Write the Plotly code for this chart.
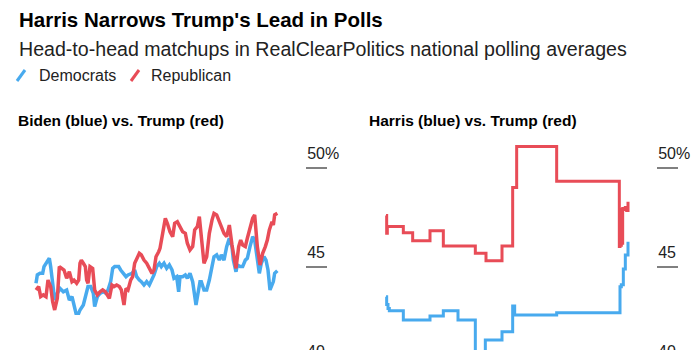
import plotly.graph_objects as go

# ---------------- data ----------------
# Left panel: Biden vs. Trump (day index since start of window)
biden_days = [0, 2, 6, 10, 12, 16, 20, 22, 25, 28, 32, 36, 41, 46, 50, 54, 57, 60, 64, 66,
              71, 75, 78, 82, 86, 88, 92, 96, 101, 105, 108, 112, 115, 118, 124, 127, 131, 135, 138, 144,
              148, 151, 155, 158, 162, 166, 170, 174, 177, 181, 185, 188, 192, 196, 200, 204, 207, 211, 214, 216,
              220, 224, 227, 231, 235, 240, 244, 246, 248, 252, 256, 260, 264, 267, 271, 275, 278, 282, 286, 290,
              294, 296, 300, 302, 306, 310, 314, 317, 321, 325, 328, 332, 335, 338, 342, 345, 348, 351, 354, 356,
              358, 362]
biden_vals = [44.18, 44.60, 44.68, 44.68, 45.02, 45.27, 45.44, 45.02, 44.01, 43.33, 43.67, 43.92, 43.75, 43.84, 43.33, 43.50, 43.08, 42.66, 42.66, 42.83,
              43.08, 43.67, 44.01, 44.01, 43.67, 43.00, 43.50, 43.67, 43.75, 43.67, 43.84, 44.26, 44.93, 45.02, 45.02, 44.85, 44.68, 44.51, 44.60, 44.68,
              44.85, 44.51, 44.34, 44.26, 44.09, 44.26, 44.09, 44.34, 44.60, 45.02, 45.19, 45.02, 45.19, 44.93, 45.10, 44.85, 44.43, 44.51, 43.75, 44.51,
              44.51, 44.60, 44.43, 44.68, 44.26, 43.08, 44.09, 44.26, 44.26, 43.84, 43.84, 44.34, 45.02, 45.52, 45.61, 45.35, 45.61, 45.35, 46.03, 46.45,
              46.03, 45.35, 44.76, 45.10, 45.02, 45.02, 45.35, 45.44, 46.03, 46.53, 46.36, 45.19, 44.68, 45.19, 45.52, 45.35, 44.85, 43.84, 44.09, 44.26,
              44.68, 44.81]

trump_b_days = [0, 4, 7, 11, 15, 18, 22, 25, 28, 32, 35, 38, 42, 46, 50, 54, 57, 61, 64, 66,
                68, 71, 74, 76, 78, 81, 85, 88, 92, 96, 100, 104, 107, 110, 114, 117, 121, 125, 128, 132,
                135, 138, 142, 145, 148, 152, 155, 158, 162, 166, 170, 174, 177, 180, 184, 186, 190, 194, 197, 201,
                205, 208, 212, 216, 220, 224, 227, 231, 235, 238, 242, 245, 248, 252, 256, 260, 264, 267, 271, 275,
                278, 282, 286, 290, 294, 297, 300, 304, 307, 310, 314, 317, 321, 325, 328, 332, 336, 340, 344, 347,
                350, 354, 356, 358, 362]
trump_b_vals = [43.84, 44.01, 43.50, 43.59, 43.50, 44.34, 44.01, 43.25, 42.83, 43.42, 45.02, 44.93, 44.85, 44.43, 44.76, 44.26, 44.34, 44.18, 44.34, 45.19,
                45.35, 45.19, 45.02, 44.34, 44.18, 45.02, 44.93, 43.84, 43.59, 43.75, 43.84, 43.75, 43.59, 43.42, 44.09, 44.01, 44.09, 44.01, 43.84, 43.08,
                43.92, 43.84, 44.34, 44.51, 45.19, 45.52, 45.69, 45.61, 45.35, 45.19, 44.93, 44.68, 44.85, 45.52, 45.77, 45.94, 46.70, 47.46, 47.21, 46.78,
                46.53, 47.21, 47.29, 47.04, 46.78, 46.70, 46.20, 45.86, 46.03, 46.87, 47.04, 47.54, 46.36, 45.19, 45.52, 46.70, 47.37, 47.71, 47.63, 47.29,
                47.12, 46.70, 46.53, 47.12, 46.11, 45.52, 44.93, 46.03, 46.36, 46.11, 46.03, 46.45, 46.95, 47.46, 47.63, 46.03, 45.10, 45.69, 46.03, 46.36,
                46.87, 47.29, 47.12, 47.63, 47.71]

# Right panel: Harris vs. Trump (step averages)
harris_days = [0, 1, 3, 5, 26, 66, 86, 108, 134, 149, 174, 190, 193, 256, 351, 353, 356, 359, 363]
harris_vals = [43.50, 43.10, 42.90, 42.79, 42.32, 42.53, 42.79, 42.32, 39.80, 41.31, 41.73, 43.03, 42.58, 42.69,
               44.00, 44.10, 44.90, 45.60, 46.28]

trump_h_days = [0, 1, 2, 26, 40, 66, 86, 134, 150, 174, 190, 196, 256, 350, 351, 352, 353, 354, 355,
                356, 359, 361, 363]
trump_h_vals = [47.60, 46.70, 47.04, 46.73, 46.33, 46.83, 46.06, 45.69, 45.32, 46.06, 49.02, 51.08, 49.33, 46.03,
                47.80, 46.10, 47.90, 46.20, 47.95, 47.90, 48.00, 47.85, 48.30]

tick_vals = [45, 50]
tick_text = ["45", "50%"]
hidden_tick_label = "40"

title_text = "Harris Narrows Trump's Lead in Polls"
subtitle_text = "Head-to-head matchups in RealClearPolitics national polling averages"
legend_names = ["Democrats", "Republican"]
panel_titles = ["Biden (blue) vs. Trump (red)", "Harris (blue) vs. Trump (red)"]

# ---------------- styling ----------------
BLUE = "#48aaee"
RED = "#e84c57"
FONT = "Liberation Sans, Arial, Helvetica, sans-serif"
W, H = 700, 350
TOP = 135  # plot-area top (px)


def py(px):
    """pixel row -> paper y"""
    return (H - px) / (H - TOP)


fig = go.Figure()
fig.add_trace(go.Scatter(x=biden_days, y=biden_vals, mode="lines",
                         line=dict(color=BLUE, width=3.5), xaxis="x", yaxis="y",
                         name=legend_names[0], showlegend=False))
fig.add_trace(go.Scatter(x=trump_b_days, y=trump_b_vals, mode="lines",
                         line=dict(color=RED, width=3.5), xaxis="x", yaxis="y",
                         name=legend_names[1], showlegend=False))
fig.add_trace(go.Scatter(x=harris_days, y=harris_vals, mode="lines",
                         line=dict(color=BLUE, width=3, shape="hv"), xaxis="x2", yaxis="y2",
                         name=legend_names[0], showlegend=False))
fig.add_trace(go.Scatter(x=trump_h_days, y=trump_h_vals, mode="lines",
                         line=dict(color=RED, width=3, shape="hv"), xaxis="x2", yaxis="y2",
                         name=legend_names[1], showlegend=False))

yaxis_common = dict(
    domain=[0, 1], range=[40.808, 51.667], side="right",
    tickmode="array", tickvals=tick_vals, ticktext=tick_text,
    ticks="outside", ticklen=21, tickwidth=2, tickcolor="#808080",
    showgrid=False, zeroline=False, showline=False,
    ticklabelstandoff=-23, ticklabelshift=-15,
    tickfont=dict(size=16, color="#222", family=FONT),
    fixedrange=True,
)

fig.update_layout(
    width=W, height=H,
    margin=dict(l=0, r=0, t=TOP, b=0, pad=0),
    paper_bgcolor="white", plot_bgcolor="white",
    font=dict(family=FONT, color="#111"),
    showlegend=False,
    xaxis=dict(domain=[30 / W, 305 / W], range=[-9, 403.5], visible=False, anchor="y"),
    yaxis=dict(anchor="x", **yaxis_common),
    xaxis2=dict(domain=[380 / W, 656 / W], range=[-9, 405], visible=False, anchor="y2"),
    yaxis2=dict(anchor="x2", **yaxis_common),
)

ann = []
ann.append(dict(text="<b>" + title_text + "</b>", x=17 / W, y=py(20), xref="paper", yref="paper",
                xanchor="left", yanchor="middle", showarrow=False,
                font=dict(size=20.5, color="#000", family=FONT)))
ann.append(dict(text=subtitle_text, x=17 / W, y=py(48.8), xref="paper", yref="paper",
                xanchor="left", yanchor="middle", showarrow=False,
                font=dict(size=19.6, color="#222", family=FONT)))
ann.append(dict(text=legend_names[0], x=37 / W, y=py(75.8), xref="paper", yref="paper",
                xanchor="left", yanchor="middle", showarrow=False,
                font=dict(size=16, color="#222", family=FONT)))
ann.append(dict(text=legend_names[1], x=149 / W, y=py(75.8), xref="paper", yref="paper",
                xanchor="left", yanchor="middle", showarrow=False,
                font=dict(size=16, color="#222", family=FONT)))
ann.append(dict(text="<b>" + panel_titles[0] + "</b>", x=16 / W, y=py(120.8), xref="paper", yref="paper",
                xanchor="left", yanchor="middle", showarrow=False,
                font=dict(size=15.5, color="#000", family=FONT)))
ann.append(dict(text="<b>" + panel_titles[1] + "</b>", x=367 / W, y=py(120.8), xref="paper", yref="paper",
                xanchor="left", yanchor="middle", showarrow=False,
                font=dict(size=15.5, color="#000", family=FONT)))
for xp in (305, 656):
    ann.append(dict(text=hidden_tick_label, x=xp / W, y=py(351), xref="paper", yref="paper",
                    xanchor="left", yanchor="middle", showarrow=False,
                    font=dict(size=16, color="#222", family=FONT)))
fig.update_layout(annotations=ann)

# legend slash icons
fig.add_shape(type="line", xref="paper", yref="paper", x0=17 / W, y0=py(81), x1=25 / W, y1=py(70),
              line=dict(color=BLUE, width=3))
fig.add_shape(type="line", xref="paper", yref="paper", x0=131 / W, y0=py(81), x1=139 / W, y1=py(70),
              line=dict(color=RED, width=3))

fig.write_html("out.html")
